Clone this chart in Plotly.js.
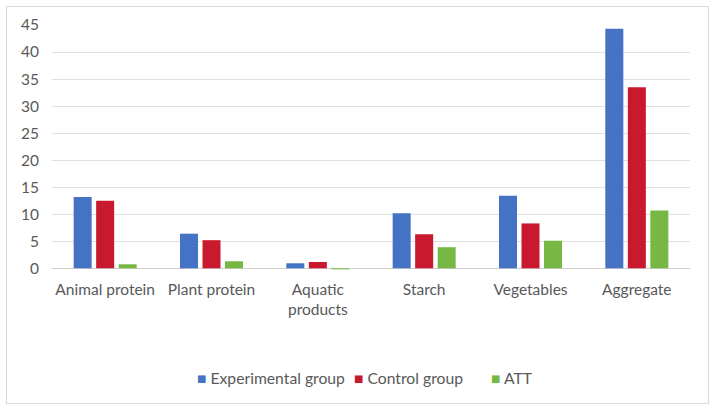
<!DOCTYPE html>
<html>
<head>
<meta charset="utf-8">
<script src="https://cdn.plot.ly/plotly-3.0.1.min.js"></script>
<style>
  html, body { margin: 0; padding: 0; background: #fff; }
  #wrap { position: relative; width: 718px; height: 413px; }
  #frame { position: absolute; left: 6px; top: 6px; width: 703px; height: 398px;
           border: 1px solid #D9D9D9; box-sizing: border-box; pointer-events: none; }
  #chart { position: absolute; left: 0; top: 0; width: 718px; height: 413px; }
</style>
</head>
<body>
<div id="wrap">
  <div id="chart"></div>
  <div id="frame"></div>
</div>
<script>
// Food categories on the x axis
const categories = ["Animal protein", "Plant protein", "Aquatic<br>products", "Starch", "Vegetables", "Aggregate"];

// Series values per category
const experimentalGroup = [13.2, 6.4, 0.93, 10.2, 13.4, 44.3];
const controlGroup      = [12.5, 5.2, 1.17, 6.3, 8.3, 33.5];
const att               = [0.74, 1.3, -0.2, 3.9, 5.1, 10.7];

const seriesNames = ["Experimental group", "Control group", "ATT"];
const seriesColors = ["#4472C4", "#C8192E", "#76B843"];
const yTicks = [0, 5, 10, 15, 20, 25, 30, 35, 40, 45];

const FONT = "Lato, 'Open Sans', sans-serif";
const TEXT = "#595959";
const W = 718, H = 413;
const M = { l: 52, r: 28, t: 25, b: 142 };

const seriesValues = [experimentalGroup, controlGroup, att];
const traces = seriesValues.map((vals, i) => ({
  name: seriesNames[i], x: categories, y: vals, type: "bar",
  marker: { color: seriesColors[i] }
}));

// Legend row drawn as text entries with a coloured square glyph
const legendLeft = [195, 352, 489];           // left edge of each entry, in px
const plotW = W - M.l - M.r;
const legendItems = seriesNames.map((name, i) => ({
  xref: "paper", yref: "paper",
  x: (legendLeft[i] - M.l) / plotW, xanchor: "left",
  y: (H - M.b - 378) / (H - M.t - M.b), yanchor: "middle",
  showarrow: false,
  text: "<span style='color:" + seriesColors[i] + "'>■</span> " + name,
  font: { family: FONT, size: 15.7, color: TEXT }
}));

const layout = {
  width: W, height: H,
  margin: M,
  paper_bgcolor: "#fff", plot_bgcolor: "#fff",
  barmode: "group", bargap: 0.365, bargroupgap: 0.2,
  font: { family: FONT, size: 15, color: TEXT },
  showlegend: false,
  annotations: legendItems,
  xaxis: {
    type: "category", showgrid: false, zeroline: false,
    showline: false, ticks: "", tickfont: { family: FONT, size: 15.5, color: TEXT },
    ticklabelstandoff: 7
  },
  yaxis: {
    range: [-0.5, 45], tickvals: yTicks, ticktext: yTicks.map(String),
    showgrid: true, gridcolor: "#E0E0E0", gridwidth: 1,
    zeroline: true, zerolinecolor: "#CFCFCF", zerolinewidth: 1,
    showline: false, ticks: "", tickfont: { family: FONT, size: 15.5, color: TEXT },
    ticklabelstandoff: 12
  }
};

Plotly.newPlot("chart", traces, layout, { displayModeBar: false, staticPlot: true });
</script>
</body>
</html>
